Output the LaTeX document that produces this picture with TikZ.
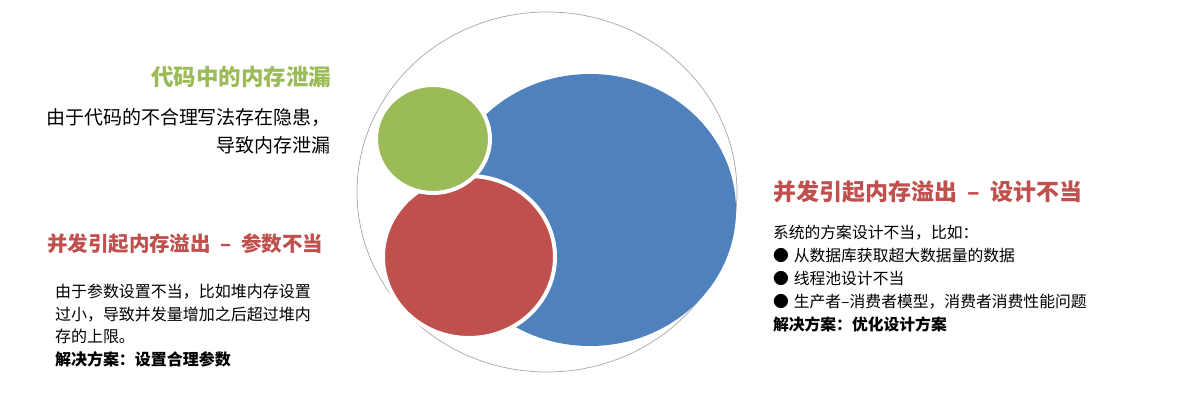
\documentclass[tikz,border=0pt]{standalone}
\usepackage{fontspec}
\setmainfont{Noto Sans CJK SC}
\definecolor{cgreen}{HTML}{9BBB59}
\definecolor{cred}{HTML}{C0504D}
\definecolor{cblue}{HTML}{4F81BD}
\begin{document}
\begin{tikzpicture}[x=1pt,y=1pt,
  blob/.style={draw=white,line width=4pt},
  txt/.style={inner sep=0pt,outer sep=0pt}]
\path[use as bounding box] (0,0) rectangle (1187,406);
% outer ellipse
\draw[gray!70,line width=0.7pt] (547,214) ellipse [x radius=190,y radius=180];
\fill[cblue] (590,196) ellipse [x radius=146,y radius=136];
\filldraw[blob,fill=cred] (469,149) ellipse [x radius=86,y radius=81];
\filldraw[blob,fill=cgreen] (433,267) ellipse [x radius=57,y radius=54];
% left top
\node[txt,anchor=east,text=cgreen,font=\fontsize{22.5}{26}\selectfont\bfseries] (t1) at (331,329) {代码中的内存泄漏};
\node[txt,anchor=north east,align=right,font=\fontsize{19}{28}\selectfont] (b1) at (331,298) {由于代码的不合理写法存在隐患，\\导致内存泄漏};
% left bottom
\node[txt,anchor=west,text=cred,font=\fontsize{20.5}{24}\selectfont\bfseries] (t2) at (47,162) {并发引起内存溢出\ \ –\ \ 参数不当};
\node[txt,anchor=north west,align=left,font=\fontsize{16}{22.7}\selectfont] (b2) at (55,122) {由于参数设置不当，比如堆内存设置\\过小，导致并发量增加之后超过堆内\\存的上限。\\\textbf{解决方案：设置合理参数}};
% right
\node[txt,anchor=west,text=cred,font=\fontsize{23}{27}\selectfont\bfseries] (t3) at (773,214) {并发引起内存溢出\ \ –\ \ 设计不当};
\node[txt,anchor=north west,align=left,font=\fontsize{15.8}{23}\selectfont] (b3) at (773,181) {系统的方案设计不当，比如：\\●\hspace{5pt}从数据库获取超大数据量的数据\\●\hspace{5pt}线程池设计不当\\●\hspace{5pt}生产者–消费者模型，消费者消费性能问题\\\textbf{解决方案：优化设计方案}};
\end{tikzpicture}
\end{document}
